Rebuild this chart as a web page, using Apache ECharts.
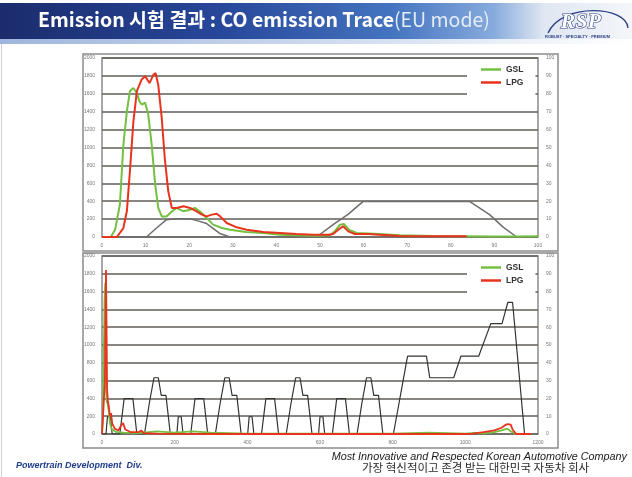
<!DOCTYPE html>
<html><head><meta charset="utf-8">
<script src="https://cdn.jsdelivr.net/npm/echarts@6/dist/echarts.min.js"></script>
<style>html,body{margin:0;padding:0;background:#fff}#c{width:632px;height:477px}</style>
</head><body><div id="c"></div>
<script>
// ---- tick labels ----
const topXTicks = [0,10,20,30,40,50,60,70,80,90,100];
const botXTicks = [0,200,400,600,800,1000,1200];
const leftTicks = [0,200,400,600,800,1000,1200,1400,1600,1800,2000];
const rightTicks = [0,10,20,30,40,50,60,70,80,90,100];
const legendNames = ['GSL','LPG'];

// ---- top chart (first 100 s) : [time, CO] ----
const topGSL = [[0,0],[2,0],[3,80],[4.1,360],[4.9,1030],[5.7,1400],[6.4,1630],[7.2,1665],[8,1610],[8.6,1515],[9.1,1480],[9.9,1500],[10.6,1370],[11.4,1030],[12.2,585],[12.9,325],[13.7,230],[14.8,230],[16,285],[17.1,325],[18.7,287],[20.2,305],[21.3,325],[22.5,285],[24,212],[25.5,138],[27.5,100],[29.4,82],[33,56],[37,45],[40.8,26],[44.6,19],[48.5,15],[52.3,19],[53.5,70],[54.6,138],[55.5,145],[56.6,82],[58.4,45],[61,40],[63.7,34],[68.3,19],[75.9,12],[83.6,8],[90,5],[95,5],[100,8]];
const topLPG = [[0,0],[3.4,0],[4.9,100],[5.7,287],[6.4,733],[7.2,1290],[8,1630],[9.1,1760],[9.9,1795],[10.9,1720],[11.8,1815],[12.3,1830],[12.9,1700],[13.7,1330],[14.4,880],[15.2,510],[16,325],[17.1,325],[18.7,343],[20.2,325],[21.7,287],[22.9,250],[24,230],[25.2,250],[26.3,260],[27.1,230],[28.6,156],[30.9,108],[33.2,82],[37,56],[40.8,45],[44.6,34],[48.5,26],[52,26],[53,34],[54.2,82],[55.3,120],[56.5,63],[58,34],[61,34],[63.7,26],[68.3,12],[75,8],[83.6,8]];
const topSpeed = [[0,0],[10.2,0],[12.5,5],[14.8,9.7],[17.1,10.2],[20.2,10.2],[22,9],[24,7.5],[27,2],[29.4,0],[49.2,0],[53,6.9],[56.5,12.8],[59.9,19.9],[84.3,19.9],[88.9,12.5],[92,5.5],[95.1,0],[100,0]];

// ---- bottom chart (whole EU cycle) ----
const botGSL = [[0,0],[3,200],[5,900],[7,1500],[9,1700],[10,1100],[11,500],[13,370],[16,330],[19,250],[22,120],[26,60],[32,40],[40,20],[60,15],[100,10],[150,30],[200,15],[250,30],[300,15],[400,5],[500,5],[600,5],[700,5],[800,5],[850,10],[900,15],[950,10],[1000,5],[1025,12],[1050,8],[1080,20],[1100,40],[1115,60],[1125,30],[1140,0],[1180,0]];
const botLPG = [[0,0],[5,0],[8,600],[11,1843],[12.5,1200],[14,500],[16,380],[19,300],[22,200],[25,236],[28,120],[35,60],[45,40],[52,90],[58,124],[64,50],[80,20],[100,20],[108,40],[115,10],[150,5],[300,0],[1000,0],[1019,5],[1050,20],[1080,40],[1100,70],[1110,100],[1116,112],[1120,95],[1125,105],[1130,50],[1140,0],[1180,0]];
const botSpeed = [[0,0],[11,0],[15,9.7],[23,9.7],[28,0],[49,0],[61,19.9],[85,19.9],[96,0],[117,0],[130,17],[143,31.6],[155,31.6],[163,21.7],[176,21.7],[188,0],
[206,0],[210,9.7],[218,9.7],[223,0],[244,0],[256,19.9],[280,19.9],[291,0],[312,0],[325,17],[338,31.6],[350,31.6],[358,21.7],[371,21.7],[383,0],
[401,0],[405,9.7],[413,9.7],[418,0],[439,0],[451,19.9],[475,19.9],[486,0],[507,0],[520,17],[533,31.6],[545,31.6],[553,21.7],[566,21.7],[578,0],
[596,0],[600,9.7],[608,9.7],[613,0],[634,0],[646,19.9],[670,19.9],[681,0],[702,0],[715,17],[728,31.6],[740,31.6],[748,21.7],[761,21.7],[773,0],
[802,0],[841,43.8],[893,43.8],[902,31.6],[968,31.6],[988,43.8],[1037,43.8],[1070,62],[1101,62],[1117,74],[1130,74],[1163,0],[1180,0]];

const GREEN = '#74c043', RED = '#e8331d', GRAY = '#6e6e6e';
const lbl = {fontSize:5, color:'#777', fontFamily:'Liberation Sans'};
const splitL = {show:true, lineStyle:{color:'#625c57', width:1.6}};

const chart = echarts.init(document.getElementById('c'), null, {renderer:'canvas'});

function xAx(gi, max, iv, ticks){
  return {type:'value', gridIndex:gi, min:0, max:max, interval:iv,
    axisLine:{show:false}, axisTick:{show:false}, splitLine:{show:false},
    axisLabel:Object.assign({margin:6, formatter:v=>ticks.includes(v)?String(v):''}, lbl)};
}
function yL(gi){
  return {type:'value', gridIndex:gi, min:0, max:2000, interval:200, position:'left',
    axisLine:{show:false}, axisTick:{show:false}, splitLine:splitL,
    axisLabel:Object.assign({margin:7, formatter:v=>leftTicks.includes(v)?String(v):''}, lbl)};
}
function yR(gi){
  return {type:'value', gridIndex:gi, min:0, max:100, interval:10, position:'right',
    axisLine:{show:false}, axisTick:{show:false}, splitLine:{show:false},
    axisLabel:Object.assign({margin:8, formatter:v=>rightTicks.includes(v)?String(v):''}, lbl)};
}
function legend(top){
  return {data:legendNames, orient:'vertical', left:467, top:top,
    backgroundColor:'#ffffff', padding:[6,12,13,14], itemGap:4,
    itemWidth:20, itemHeight:2.5, icon:'rect',
    textStyle:{fontSize:8.5, color:'#333', fontFamily:'Liberation Sans', fontWeight:'bold'}};
}
function ln(name, x, y, data, color, w, z){
  return {name:name, type:'line', xAxisIndex:x, yAxisIndex:y, data:data, showSymbol:false,
    symbol:'none', lineStyle:{color:color, width:w}, itemStyle:{color:color}, z:z, animation:false};
}

chart.setOption({
  animation:false,
  backgroundColor:'#ffffff',
  grid:[
    {left:102, right:94, top:58, height:179, show:true, borderColor:'#8a8a8a', borderWidth:1.5, backgroundColor:'transparent'},
    {left:102, right:94, top:256, height:178, show:true, borderColor:'#8a8a8a', borderWidth:1.5, backgroundColor:'transparent'}
  ],
  legend:[legend(59), legend(257)],
  xAxis:[xAx(0,100,10,topXTicks), xAx(1,1200,200,botXTicks)],
  yAxis:[yL(0), yR(0), yL(1), yR(1)],
  series:[
    ln('Speed', 0, 1, topSpeed, GRAY, 1.5, 2),
    ln('GSL', 0, 0, topGSL, GREEN, 2, 3),
    ln('LPG', 0, 0, topLPG, RED, 2, 4),
    ln('Speed', 1, 3, botSpeed, '#333333', 1.2, 2),
    ln('GSL', 1, 2, botGSL, GREEN, 1.8, 3),
    ln('LPG', 1, 2, botLPG, RED, 1.8, 4)
  ],
  graphic:[
    {type:'rect', z:-1, shape:{x:0,y:3,width:632,height:36}, style:{fill:new echarts.graphic.LinearGradient(0,0,1,0,[
      {offset:0,color:'#1b2c6c'},{offset:0.35,color:'#27479a'},{offset:0.62,color:'#4474c0'},{offset:0.78,color:'#86aadc'},{offset:0.86,color:'#dfe7f2'},{offset:1,color:'#f4f6fa'}])}},
    {type:'rect', z:-1, shape:{x:0,y:39,width:632,height:5}, style:{fill:new echarts.graphic.LinearGradient(0,0,1,0,[
      {offset:0,color:'#9fb5dd'},{offset:0.6,color:'#d5e0f1'},{offset:1,color:'#ffffff'}])}},
    {type:'text', left:38, top:10, style:{
      text:'{b|Emission 시험 결과 : CO emission Trace}{l|(EU mode)}',
      rich:{b:{fontSize:19.5, fontWeight:'bold', fill:'#ffffff', fontFamily:'Noto Sans CJK KR'},
            l:{fontSize:19.5, fontWeight:'normal', fill:'#e4ecf8', fontFamily:'Noto Sans CJK KR'}}}},
    {type:'bezierCurve', shape:{x1:548,y1:33,x2:628,y2:28,cpx1:562,cpy1:2,cpx2:627,cpy2:6}, style:{stroke:'#2d3f85', lineWidth:1.4, fill:null}},
    {type:'text', left:560, top:11, style:{text:'RSP', fontSize:22, fontStyle:'italic', fontWeight:'bold', fontFamily:'Liberation Serif', fill:'#ffffff', stroke:'#2d3f85', lineWidth:1.2}},
    {type:'text', left:545, top:35, style:{text:'ROBUST · SPECIALTY · PREMIUM', fontSize:4, fill:'#2d3f85', fontFamily:'Liberation Sans', fontWeight:'bold'}},
    {type:'rect', z:-1, shape:{x:83,y:54,width:475,height:197}, style:{fill:null, stroke:'#8c8c8c', lineWidth:1.5}},
    {type:'rect', z:-1, shape:{x:83,y:253,width:475,height:195}, style:{fill:null, stroke:'#8c8c8c', lineWidth:1.5}},
    {type:'line', shape:{x1:1.5,y1:44,x2:1.5,y2:477}, style:{stroke:'#cfcfcf', lineWidth:1}},
    {type:'text', left:16, top:461, style:{text:'Powertrain Development  Div.', fontSize:9, fontStyle:'italic', fontWeight:'bold', fill:'#1e3c8c', fontFamily:'Liberation Sans'}},
    {type:'text', right:5, top:451, style:{text:'Most Innovative and Respected Korean Automotive Company', fontSize:10.8, fontStyle:'italic', fill:'#1a1a1a', fontFamily:'Liberation Sans'}},
    {type:'text', left:362, top:462, style:{text:'가장 혁신적이고 존경 받는 대한민국 자동차 회사', fontSize:11.5, fill:'#2a2a2a', fontFamily:'Noto Sans CJK KR'}}
  ]
});
</script></body></html>
